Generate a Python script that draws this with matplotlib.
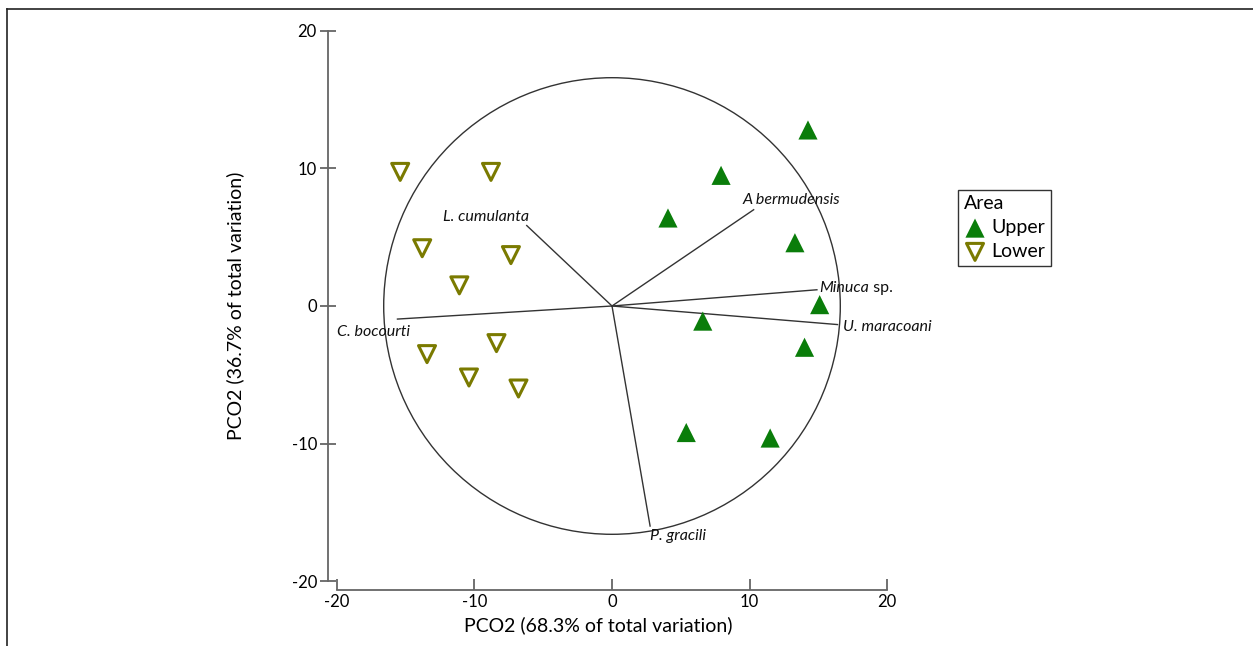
import matplotlib.pyplot as plt
from matplotlib.patches import Circle
from matplotlib.lines import Line2D

plt.rcParams['font.family'] = ['Lato', 'DejaVu Sans']
plt.rcParams['axes.unicode_minus'] = False

# Upper area samples
upper_x = [14.25, 7.93, 4.07, 13.3, 15.1, 6.6, 14.0, 5.4, 11.5]
upper_y = [12.8, 9.5, 6.4, 4.6, 0.1, -1.1, -3.0, -9.2, -9.6]

# Lower area samples
lower_x = [-15.4, -8.8, -13.8, -7.35, -11.1, -13.45, -8.4, -10.4, -6.8]
lower_y = [9.75, 9.75, 4.2, 3.7, 1.5, -3.5, -2.7, -5.2, -6.0]

# species vectors (end points)
species = ['L. cumulanta', 'A bermudensis', 'Minuca', 'U. maracoani', 'C. bocourti', 'P. gracili']
vec_x = [-6.2, 10.3, 14.9, 16.4, -15.6, 2.77]
vec_y = [5.85, 7.0, 1.18, -1.35, -0.95, -16.0]

circle_r = 16.6
ticks = [-20, -10, 0, 10, 20]

fig = plt.figure(figsize=(12.53, 6.46), dpi=100)
ax = fig.add_axes([328 / 1253, 56 / 646, 568 / 1253, 568 / 646])

ax.add_patch(Circle((0, 0), circle_r, fill=False, edgecolor='#333333', lw=1.0))

for x, y in zip(vec_x, vec_y):
    ax.plot([0, x], [0, y], color='#333333', lw=1.0)

# labels: offsets in pixels from the vector end
label_opts = {
    'L. cumulanta': dict(off=(2, 2), ha='right', va='bottom'),
    'A bermudensis': dict(off=(-11, 3), ha='left', va='bottom'),
    'Minuca': dict(off=(2, 2), ha='left', va='center'),
    'U. maracoani': dict(off=(5, -2), ha='left', va='center'),
    'C. bocourti': dict(off=(13, -13), ha='right', va='center'),
    'P. gracili': dict(off=(0, -3), ha='left', va='top'),
}
for name, x, y in zip(species, vec_x, vec_y):
    o = label_opts[name]
    t = ax.annotate(name, (x, y), xytext=o['off'], textcoords='offset pixels',
                    ha=o['ha'], va=o['va'], fontsize=11.5, style='italic', color='#111111')
    if name == 'Minuca':
        ax.annotate(' sp.', xy=(1, 0), xycoords=t, ha='left', va='bottom',
                    fontsize=11.5, color='#111111')

ax.scatter(upper_x, upper_y, marker='^', s=190, color='#0a7d0a', edgecolors='none',
           label='Upper', zorder=3)
ax.scatter(lower_x, lower_y, marker='v', s=150, facecolors='none', edgecolors='#7a7a00',
           linewidths=2.2, label='Lower', zorder=3)

ax.set_xlim(-20.65, 20.65)
ax.set_ylim(-20.65, 20.65)
ax.set_xticks(ticks)
ax.set_yticks(ticks)

for s in ['top', 'right']:
    ax.spines[s].set_visible(False)
ax.spines['left'].set_bounds(-20, 20)
ax.spines['bottom'].set_bounds(-20, 20)
for s in ['left', 'bottom']:
    ax.spines[s].set_color('#666666')
    ax.spines[s].set_linewidth(1.3)

ax.tick_params(axis='y', direction='inout', length=12, width=1.3, color='#666666',
               labelsize=12, pad=2)
ax.tick_params(axis='x', direction='in', length=8, width=1.3, color='#666666',
               labelsize=12, pad=3)

ax.set_xlabel('PCO2 (68.3% of total variation)', fontsize=14, va='center')
ax.set_ylabel('PCO2 (36.7% of total variation)', fontsize=14, va='center')
ax.xaxis.set_label_coords(0.475, -0.062)
ax.yaxis.set_label_coords(-0.163, 0.5)

leg = ax.legend(title='Area', loc='upper left', bbox_to_anchor=(1.11, 0.705),
                fontsize=14, title_fontsize=14, frameon=True, fancybox=False,
                scatterpoints=1, handletextpad=0.3, borderpad=0.3, labelspacing=0.35,
                handlelength=1.1, borderaxespad=0)
leg.get_frame().set_edgecolor('black')
leg.get_frame().set_linewidth(1.0)
leg._legend_box.align = 'left'

# outer frame lines (left and top)
fig.add_artist(Line2D([7 / 1253, 7 / 1253], [0, 1 - 9 / 646], color='#222222', lw=1.2))
fig.add_artist(Line2D([7 / 1253, 1], [1 - 9 / 646, 1 - 9 / 646], color='#222222', lw=1.2))

fig.savefig('out.png', dpi=100)
